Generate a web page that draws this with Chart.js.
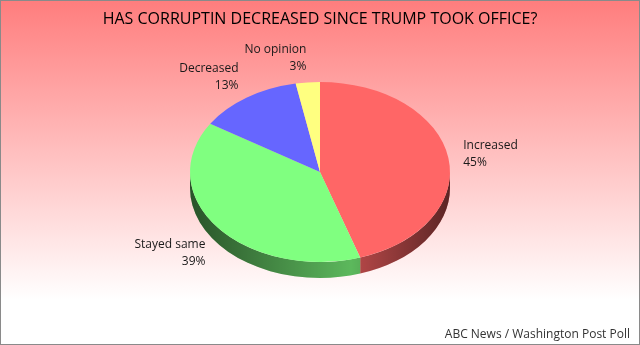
<!DOCTYPE html>
<html lang="en">
  <head>
    <meta charset="UTF-8" />
    <title>Corruption Poll</title>
    <script src="https://cdn.jsdelivr.net/npm/chart.js"></script>
    <style>
      * {
        margin: 0;
        padding: 0;
        box-sizing: border-box;
      }
      body {
        background: #fff;
      }
      .chart-box {
        width: 640px;
        height: 345px;
      }
    </style>
  </head>
  <body>
    <div class="chart-box">
      <canvas id="pollChart" width="640" height="345"></canvas>
    </div>

    <script>
      // Poll answers
      const answers = ["Increased", "Stayed same", "Decreased", "No opinion"];
      const shares = [45, 39, 13, 3];
      const sliceColors = ["#ff6666", "#80ff80", "#6666ff", "#ffff80"];

      // Look of the tilted pie
      const CX = 320;
      const CY = 172;
      const RX = 130;
      const RY = 90;
      const DEPTH = 16;
      const FONT = "'Open Sans', 'DejaVu Sans', sans-serif";

      function darken(hex, f) {
        const n = parseInt(hex.slice(1), 16);
        const r = Math.round(((n >> 16) & 255) * f);
        const g = Math.round(((n >> 8) & 255) * f);
        const b = Math.round((n & 255) * f);
        return `rgb(${r}, ${g}, ${b})`;
      }

      const pie3d = {
        id: "pie3d",
        beforeDraw(chart) {
          const ctx = chart.ctx;
          const bg = ctx.createLinearGradient(0, 0, 0, 300);
          bg.addColorStop(0, "#ff7d7d");
          bg.addColorStop(1, "#ffffff");
          ctx.save();
          ctx.fillStyle = "#fff";
          ctx.fillRect(0, 0, chart.width, chart.height);
          ctx.fillStyle = bg;
          ctx.fillRect(0, 0, chart.width, 300);
          ctx.restore();
        },
        beforeDatasetsDraw(chart) {
          const ctx = chart.ctx;
          const arcs = chart.getDatasetMeta(0).data;

          // front wall of the pie
          const shade = ctx.createLinearGradient(CX - RX, 0, CX + RX, 0);
          shade.addColorStop(0, "rgba(0,0,0,0.55)");
          shade.addColorStop(0.62, "rgba(0,0,0,0)");
          shade.addColorStop(1, "rgba(0,0,0,0.5)");
          arcs.forEach((arc, i) => {
            const a0 = Math.max(arc.startAngle, 0);
            const a1 = Math.min(arc.endAngle, Math.PI);
            if (a1 <= a0) return;
            ctx.save();
            ctx.beginPath();
            ctx.ellipse(CX, CY, RX, RY, 0, a0, a1);
            ctx.ellipse(CX, CY + DEPTH, RX, RY, 0, a1, a0, true);
            ctx.closePath();
            ctx.fillStyle = darken(sliceColors[i], 0.72);
            ctx.fill();
            ctx.fillStyle = shade;
            ctx.fill();
            ctx.restore();
          });

          // squash the round pie into the top face
          const a = arcs[0];
          ctx.save();
          ctx.translate(CX, CY);
          ctx.scale(RX / a.outerRadius, RY / a.outerRadius);
          ctx.translate(-a.x, -a.y);
        },
        afterDatasetsDraw(chart) {
          const ctx = chart.ctx;
          ctx.restore();

          const arcs = chart.getDatasetMeta(0).data;
          ctx.save();
          ctx.font = `12px ${FONT}`;
          ctx.fillStyle = "#1a1a1a";
          ctx.textBaseline = "middle";
          arcs.forEach((arc, i) => {
            const mid = (arc.startAngle + arc.endAngle) / 2;
            const c = Math.cos(mid);
            const s = Math.sin(mid);
            const x = CX + (RX + 15) * c;
            const y = CY + (RY + 25) * s + (s > 0 ? DEPTH * s : 0);
            ctx.textAlign = c >= 0 ? "left" : "right";
            ctx.fillText(answers[i], x, y - 8);
            ctx.fillText(shares[i] + "%", x, y + 9);
          });
          ctx.restore();
        },
        afterDraw(chart) {
          const ctx = chart.ctx;
          ctx.save();
          ctx.strokeStyle = "#8a8a8a";
          ctx.lineWidth = 1;
          ctx.strokeRect(0.5, 0.5, chart.width - 1, chart.height - 1);
          ctx.restore();
        },
      };

      new Chart(document.getElementById("pollChart"), {
        type: "pie",
        data: {
          labels: answers,
          datasets: [
            {
              data: shares,
              backgroundColor: sliceColors,
              borderWidth: 0,
              clip: false,
            },
          ],
        },
        options: {
          responsive: false,
          animation: false,
          events: [],
          layout: { padding: { left: 10, right: 10 } },
          plugins: {
            legend: { display: false },
            tooltip: { enabled: false },
            title: {
              display: true,
              text: "HAS CORRUPTIN DECREASED SINCE TRUMP TOOK OFFICE?",
              color: "#000",
              font: { family: FONT, size: 16, weight: "normal" },
              padding: { top: 10, bottom: 10 },
            },
            subtitle: {
              display: true,
              position: "bottom",
              align: "end",
              text: "ABC News / Washington Post Poll",
              color: "#333",
              font: { family: FONT, size: 12, weight: "normal" },
              padding: { top: 4, bottom: 3 },
            },
          },
        },
        plugins: [pie3d],
      });
    </script>
  </body>
</html>
